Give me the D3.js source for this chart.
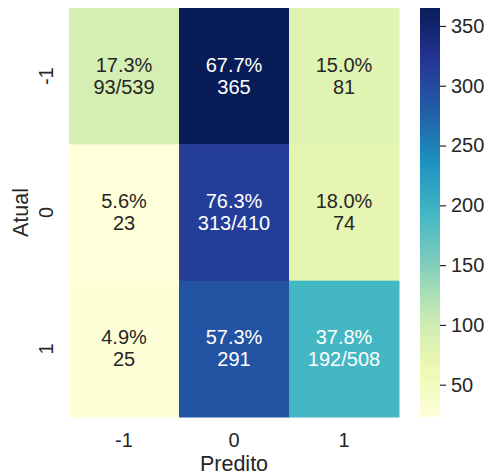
<!DOCTYPE html>
<html>
<head>
<meta charset="utf-8">
<script src="https://cdn.jsdelivr.net/npm/d3@7"></script>
<style>
  html, body { margin: 0; padding: 0; background: #ffffff; }
  svg { display: block; font-family: "Liberation Sans", Arial, sans-serif; }
</style>
</head>
<body>
<div id="chart"></div>
<script>
// Confusion matrix values (rows = Atual, columns = Predito)
const classes = ["-1", "0", "1"];
const counts = [
  [93, 365, 81],
  [23, 313, 74],
  [25, 291, 192]
];
const colorbarTicks = [50, 100, 150, 200, 250, 300, 350];
const ylgnbu = ["#ffffd9", "#edf8b1", "#c7e9b4", "#7fcdbb", "#41b6c4",
                "#1d91c0", "#225ea8", "#253494", "#081d58"];

const W = 492, H = 476;
const plot = { left: 69, right: 399, top: 8, bottom: 417 };
const cbar = { left: 420, right: 440 };

const svg = d3.select("#chart").append("svg")
  .attr("width", W)
  .attr("height", H);

// Scales
const x = d3.scaleBand().domain(classes).range([plot.left, plot.right]);
const y = d3.scaleBand().domain(classes).range([plot.top, plot.bottom]);

const flat = counts.flat();
const vmin = d3.min(flat), vmax = d3.max(flat);

const stops = ylgnbu.map((c, i) => vmin + (vmax - vmin) * i / (ylgnbu.length - 1));
const color = d3.scaleLinear().domain(stops).range(ylgnbu).interpolate(d3.interpolateRgb);

// luminance rule like seaborn for text colour
function luminance(c) {
  const rgb = d3.rgb(c);
  const ch = [rgb.r, rgb.g, rgb.b].map(v => {
    v = v / 255;
    return v <= 0.03928 ? v / 12.92 : Math.pow((v + 0.055) / 1.055, 2.4);
  });
  return 0.2126 * ch[0] + 0.7152 * ch[1] + 0.0722 * ch[2];
}

const cells = [];
counts.forEach((row, i) => {
  const total = d3.sum(row);
  row.forEach((v, j) => {
    cells.push({
      actual: classes[i],
      pred: classes[j],
      value: v,
      pct: (100 * v / total).toFixed(1) + "%",
      label: i === j ? `${v}/${total}` : `${v}`
    });
  });
});

// Heatmap cells
svg.selectAll("rect.cell")
  .data(cells)
  .enter().append("rect")
  .attr("class", "cell")
  .attr("x", d => x(d.pred))
  .attr("y", d => y(d.actual))
  .attr("width", x.bandwidth() + 0.5)
  .attr("height", y.bandwidth() + 0.5)
  .attr("fill", d => color(d.value));

// Annotations
const annot = svg.selectAll("text.annot")
  .data(cells)
  .enter().append("text")
  .attr("class", "annot")
  .attr("text-anchor", "middle")
  .style("font-size", "20px")
  .style("fill", d => luminance(color(d.value)) > 0.408 ? "#262626" : "#ffffff");

annot.append("tspan")
  .attr("x", d => x(d.pred) + x.bandwidth() / 2)
  .attr("y", d => y(d.actual) + y.bandwidth() / 2 - 4.5)
  .text(d => d.pct);

annot.append("tspan")
  .attr("x", d => x(d.pred) + x.bandwidth() / 2)
  .attr("y", d => y(d.actual) + y.bandwidth() / 2 + 17.5)
  .text(d => d.label);

// X tick labels
svg.selectAll("text.xtick")
  .data(classes)
  .enter().append("text")
  .attr("class", "xtick")
  .attr("x", d => x(d) + x.bandwidth() / 2)
  .attr("y", 447)
  .attr("text-anchor", "middle")
  .style("font-size", "20px")
  .style("fill", "#262626")
  .text(d => d);

// Y tick labels (rotated)
svg.selectAll("text.ytick")
  .data(classes)
  .enter().append("text")
  .attr("class", "ytick")
  .attr("transform", d => `translate(53,${y(d) + y.bandwidth() / 2}) rotate(-90)`)
  .attr("text-anchor", "middle")
  .style("font-size", "20px")
  .style("fill", "#262626")
  .text(d => d);

// Axis labels
svg.append("text")
  .attr("x", (plot.left + plot.right) / 2)
  .attr("y", 471)
  .attr("text-anchor", "middle")
  .style("font-size", "21.5px")
  .style("fill", "#262626")
  .text("Predito");

svg.append("text")
  .attr("transform", `translate(28,${(plot.top + plot.bottom) / 2}) rotate(-90)`)
  .attr("text-anchor", "middle")
  .style("font-size", "21.5px")
  .style("fill", "#262626")
  .text("Atual");

// Colorbar
const cScale = d3.scaleLinear().domain([vmin, vmax]).range([plot.bottom, plot.top]);

const defs = svg.append("defs");
const grad = defs.append("linearGradient")
  .attr("id", "cbar-grad")
  .attr("x1", "0").attr("y1", "1")
  .attr("x2", "0").attr("y2", "0");
grad.selectAll("stop")
  .data(d3.range(0, 1.0001, 0.02))
  .enter().append("stop")
  .attr("offset", d => d)
  .attr("stop-color", d => color(vmin + d * (vmax - vmin)));

svg.append("rect")
  .attr("x", cbar.left)
  .attr("y", plot.top)
  .attr("width", cbar.right - cbar.left)
  .attr("height", plot.bottom - plot.top)
  .attr("fill", "url(#cbar-grad)");

const cAxis = d3.axisRight(cScale)
  .tickValues(colorbarTicks)
  .tickSize(6)
  .tickPadding(5);

const cg = svg.append("g")
  .attr("transform", `translate(${cbar.right},0)`)
  .call(cAxis);
cg.select(".domain").remove();
cg.selectAll("line").attr("stroke", "#262626").attr("stroke-width", 1.2);
cg.selectAll("text")
  .style("font-size", "20px")
  .style("font-family", "'Liberation Sans', Arial, sans-serif")
  .attr("fill", "#262626");
</script>
</body>
</html>
